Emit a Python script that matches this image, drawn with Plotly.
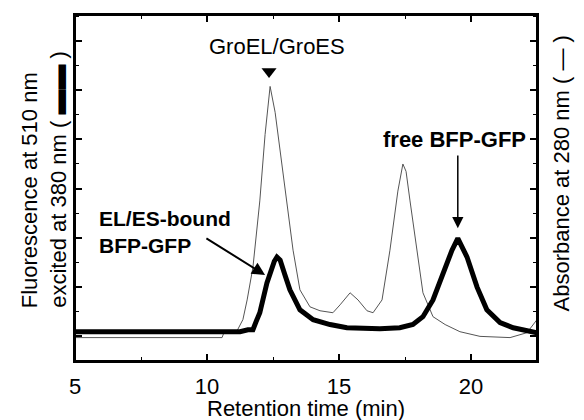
import plotly.graph_objects as go

# Fluorescence (thick) trace
fl_x = [5.0, 11.25, 11.55, 11.74, 11.86, 12.0, 12.27, 12.39, 12.55, 12.65, 12.77, 12.95, 13.14, 13.52,
        14.02, 14.66, 15.3, 16.55, 17.3, 17.8, 18.18, 18.56, 18.94, 19.28, 19.5, 19.85, 20.23, 20.6,
        21.1, 21.6, 22.5]
fl_y = [-0.81, -0.81, -0.73, -0.73, -0.4, -0.04, 1.17, 1.57, 2.05, 2.22, 2.1, 1.5, 0.89, 0.08,
        -0.32, -0.52, -0.65, -0.69, -0.65, -0.52, -0.2, 0.48, 1.57, 2.5, 2.98, 2.22, 1.0, 0.08,
        -0.44, -0.65, -0.85]

# Absorbance (thin) trace
ab_x = [5.0, 10.57, 10.64, 11.14, 11.36, 11.52, 11.74, 12.0, 12.2, 12.39, 12.58, 12.77, 13.03, 13.26,
        13.52, 13.9, 14.28, 14.77, 15.04, 15.42, 15.72, 16.06, 16.29, 16.63, 16.93, 17.23, 17.42,
        17.54, 17.69, 17.95, 18.18, 18.56, 19.02, 19.58, 20.34, 21.48, 22.12, 22.5]
ab_y = [-1.05, -1.05, -0.85, -0.77, -0.32, 0.48, 1.81, 4.5, 7.2, 9.15, 8.1, 6.5, 4.5, 2.5,
        0.89, 0.2, 0.04, -0.04, 0.28, 0.77, 0.48, 0.04, -0.04, 0.48, 2.5, 4.9, 6.0,
        5.7, 4.5, 2.5, 0.77, -0.2, -0.52, -0.81, -1.0, -1.05, -0.85, -0.32]

x_ticks = [5, 10, 15, 20]
x_tick_labels = ["5", "10", "15", "20"]

# annotation anchors (data units)
groel_marker = (12.35, 9.76)
groel_label = (12.65, 10.77)
bound_label = (5.83, 3.25)
bound_arrow_tail = (9.92, 3.02)
bound_arrow_tip = (12.2, 1.49)
free_label = (19.36, 7.0)
free_arrow_tail = (19.5, 6.41)
free_arrow_tip = (19.5, 3.39)

FONT = "Liberation Sans, Arial, sans-serif"

fig = go.Figure()
fig.add_trace(go.Scatter(x=ab_x, y=ab_y, mode="lines",
                         line=dict(color="#555555", width=1), hoverinfo="skip"))
fig.add_trace(go.Scatter(x=fl_x, y=fl_y, mode="lines",
                         line=dict(color="black", width=5), hoverinfo="skip"))
fig.add_trace(go.Scatter(x=[groel_marker[0]], y=[groel_marker[1]], mode="markers",
                         marker=dict(symbol="triangle-down", size=13, color="black"),
                         hoverinfo="skip"))

ann = []
ann.append(dict(x=groel_label[0], y=groel_label[1], xref="x", yref="y", text="GroEL/GroES",
                showarrow=False, font=dict(size=22, color="black")))
ann.append(dict(x=bound_label[0], y=bound_label[1], xref="x", yref="y",
                text="<b>EL/ES-bound</b><br><b>BFP-GFP</b>", align="left", xanchor="left",
                showarrow=False, font=dict(size=21, color="black")))
ann.append(dict(x=bound_arrow_tip[0], y=bound_arrow_tip[1], ax=bound_arrow_tail[0], ay=bound_arrow_tail[1],
                xref="x", yref="y", axref="x", ayref="y", text="", showarrow=True,
                arrowhead=2, arrowsize=1.3, arrowwidth=2, arrowcolor="black"))
ann.append(dict(x=free_label[0], y=free_label[1], xref="x", yref="y", text="<b>free BFP-GFP</b>",
                showarrow=False, font=dict(size=22, color="black")))
ann.append(dict(x=free_arrow_tip[0], y=free_arrow_tip[1], ax=free_arrow_tail[0], ay=free_arrow_tail[1],
                xref="x", yref="y", axref="x", ayref="y", text="", showarrow=True,
                arrowhead=2, arrowsize=1.5, arrowwidth=1.5, arrowcolor="black"))
# axis titles
ann.append(dict(x=0.5, y=0, xref="paper", yref="paper", yshift=-47, text="Retention time (min)",
                showarrow=False, yanchor="middle", font=dict(size=22, color="black")))
ann.append(dict(x=0, y=0.1466, xref="paper", yref="paper", xshift=-46, textangle=-90,
                text="Fluorescence at 510 nm", showarrow=False, xanchor="center", yanchor="bottom",
                font=dict(size=22, color="black")))
ann.append(dict(x=0, y=0.1466, xref="paper", yref="paper", xshift=-18, textangle=-90,
                text="excited at 380 nm ( <span style='font-size:25px'>▬▬</span> )", showarrow=False,
                xanchor="center", yanchor="bottom", font=dict(size=22, color="black")))
ann.append(dict(x=1, y=0.542, xref="paper", yref="paper", xshift=24, textangle=-90,
                text="Absorbance at 280 nm ( — )", showarrow=False,
                xanchor="center", yanchor="middle", font=dict(size=22, color="black")))

# The page body has an 8px margin, so the figure is sized/offset to compensate.
fig.update_layout(
    width=576, height=412,
    margin=dict(l=67, r=47, t=5, b=59),
    paper_bgcolor="white", plot_bgcolor="white",
    showlegend=False,
    font=dict(family=FONT, size=22, color="black"),
    annotations=ann,
    shapes=[dict(type="rect", xref="paper", yref="paper", x0=0, x1=1, y0=0, y1=1,
                 line=dict(color="black", width=2), fillcolor="rgba(0,0,0,0)", layer="above")],
    xaxis=dict(range=[5, 22.5], tickvals=x_ticks, ticktext=x_tick_labels,
               ticks="inside", ticklen=7, tickwidth=1.5, tickcolor="black",
               showline=True, linecolor="black", linewidth=1.5, mirror="allticks",
               showgrid=False, zeroline=False, ticklabelstandoff=5,
               tickfont=dict(size=22),
               minor=dict(dtick=2.5, tick0=0, ticks="inside", ticklen=4, tickwidth=1.2, tickcolor="black",
                          showgrid=False)),
    yaxis=dict(range=[-2, 12.05], tick0=1, dtick=2, showticklabels=False,
               ticks="inside", ticklen=7, tickwidth=1.5, tickcolor="black",
               showline=True, linecolor="black", linewidth=1.5, mirror="allticks",
               showgrid=False, zeroline=False,
               minor=dict(dtick=1, tick0=0, ticks="inside", ticklen=4, tickwidth=1.2, tickcolor="black",
                          showgrid=False)),
)

fig.write_html("out.html")
